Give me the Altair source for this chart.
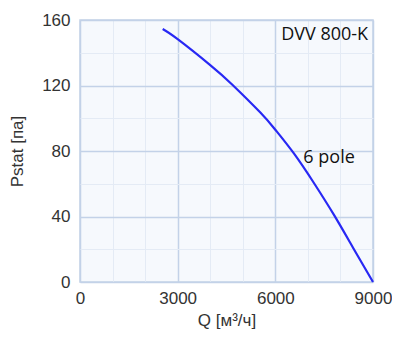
import altair as alt
import pandas as pd

q_values = [2540, 3000, 4000, 4680, 5540, 6000, 6570, 7200, 7815, 8400, 9000]
p_values = [154.5, 148.3, 132.5, 120.5, 103.5, 93, 78.5, 60, 40.5, 20.5, 0]

x_ticks = [0, 1000, 2000, 3000, 4000, 5000, 6000, 7000, 8000, 9000]
y_ticks = [0, 20, 40, 60, 80, 100, 120, 140, 160]

label_texts = ["DVV 800-K", "6 pole"]
label_q = [8850, 6860]
label_p = [151, 75.5]

curve = pd.DataFrame({"Q": q_values, "P": p_values})
labels = pd.DataFrame({"Q": label_q, "P": label_p, "t": label_texts})

major = "#c3d2e8"
minor = "#e4ebf5"

xscale = alt.Scale(domain=[0, 9000], nice=False)
yscale = alt.Scale(domain=[0, 160], nice=False)

x_axis = alt.Axis(
    values=x_ticks,
    title="Q [м³/ч]",
    format="d",
    labelExpr="(round(datum.value) % 3000 == 0) ? datum.label : ''",
    gridColor={"condition": {"test": "round(datum.value) % 3000 == 0", "value": major}, "value": minor},
    gridWidth={"condition": {"test": "round(datum.value) % 3000 == 0", "value": 1.5}, "value": 1},
    ticks=False, domain=False, labelPadding=8, titlePadding=6,
    labelOverlap=False, labelFlush=False, labelBound=False,
)
y_axis = alt.Axis(
    values=y_ticks,
    title="Pstat [па]",
    format="d",
    labelExpr="(round(datum.value) % 40 == 0) ? datum.label : ''",
    gridColor={"condition": {"test": "round(datum.value) % 40 == 0", "value": major}, "value": minor},
    gridWidth={"condition": {"test": "round(datum.value) % 40 == 0", "value": 1.5}, "value": 1},
    ticks=False, domain=False, labelPadding=10, titlePadding=15,
    labelOverlap=False, labelFlush=False, labelBound=False,
)

X = alt.X("Q:Q", scale=xscale, axis=x_axis)
Y = alt.Y("P:Q", scale=yscale, axis=y_axis)

line = alt.Chart(curve).mark_line(color="#2828f4", strokeWidth=2.2, interpolate="natural").encode(
    x=X, y=Y,
)

txt1 = alt.Chart(labels.iloc[[0]]).mark_text(
    align="right", baseline="middle", font="Open Sans", fontSize=18, color="#111"
).encode(x=X, y=Y, text="t:N")
txt2 = alt.Chart(labels.iloc[[1]]).mark_text(
    align="left", baseline="middle", font="Open Sans", fontSize=18, color="#111"
).encode(x=X, y=Y, text="t:N")

chart = alt.layer(line, txt1, txt2).properties(
    width=293, height=262,
    autosize="none",
    padding={"left": 72, "top": 12, "right": 19, "bottom": 59},
).configure_view(
    fill="#f6f9fd", stroke=major, strokeWidth=1.5
).configure_axis(
    labelFont="Liberation Sans", labelFontSize=17, labelColor="#333",
    titleFont="Liberation Sans", titleColor="#333", titleFontWeight="normal",
).configure_axisX(titleFontSize=17).configure_axisY(titleFontSize=17)

chart.save("out.html", embed_options={"renderer": "svg", "actions": False})
